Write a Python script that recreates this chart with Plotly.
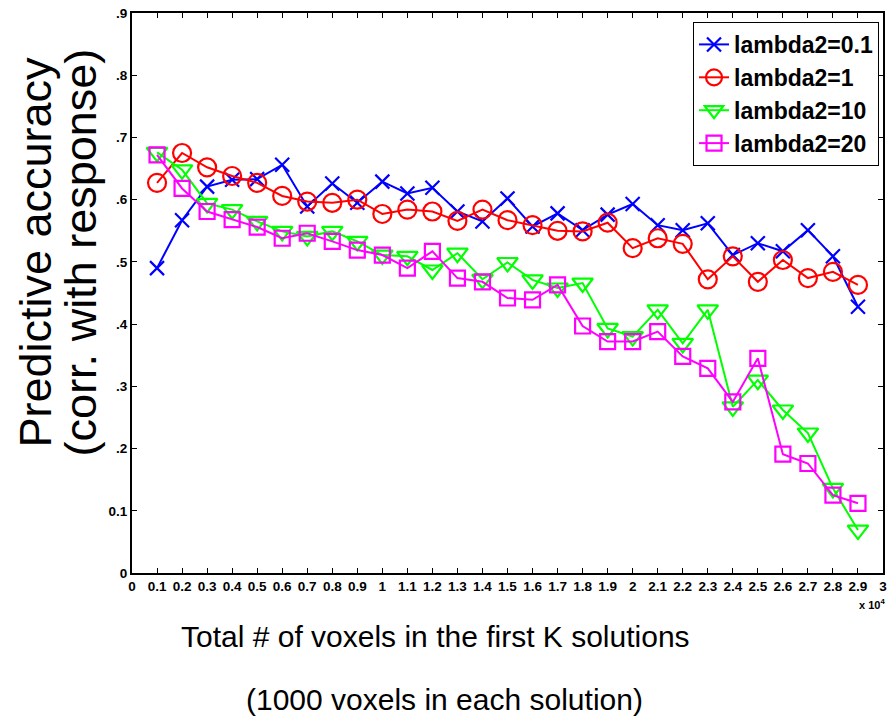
import plotly.graph_objects as go

# Number of voxels selected (first K solutions, 1000 voxels each)
voxels = [1000 * k for k in range(1, 30)]

acc_lambda_01 = [0.490, 0.567, 0.621, 0.632, 0.633, 0.656, 0.589, 0.626, 0.595, 0.629,
                 0.610, 0.619, 0.581, 0.565, 0.602, 0.557, 0.578, 0.551, 0.576, 0.593,
                 0.559, 0.551, 0.562, 0.511, 0.530, 0.517, 0.551, 0.509, 0.428]
acc_lambda_1 = [0.627, 0.675, 0.652, 0.638, 0.627, 0.606, 0.597, 0.595, 0.600, 0.577,
                0.584, 0.581, 0.566, 0.584, 0.567, 0.559, 0.550, 0.549, 0.563, 0.522,
                0.538, 0.529, 0.472, 0.509, 0.468, 0.503, 0.474, 0.484, 0.463]
acc_lambda_10 = [0.676, 0.648, 0.594, 0.584, 0.565, 0.549, 0.541, 0.549, 0.533, 0.511,
                 0.509, 0.487, 0.514, 0.472, 0.499, 0.471, 0.458, 0.466, 0.393, 0.380,
                 0.423, 0.369, 0.423, 0.267, 0.310, 0.262, 0.225, 0.136, 0.069]
acc_lambda_20 = [0.672, 0.618, 0.581, 0.568, 0.556, 0.538, 0.546, 0.533, 0.519, 0.511,
                 0.490, 0.517, 0.474, 0.468, 0.442, 0.439, 0.463, 0.397, 0.372, 0.372,
                 0.388, 0.348, 0.329, 0.275, 0.345, 0.191, 0.176, 0.125, 0.112]

series_names = ["lambda2=0.1", "lambda2=1", "lambda2=10", "lambda2=20"]
series_values = [acc_lambda_01, acc_lambda_1, acc_lambda_10, acc_lambda_20]
series_colors = ["#0000FF", "#FF0000", "#00FF00", "#FF00FF"]
series_symbols = ["x-thin-open", "circle-open", "triangle-down-open", "square-open"]
series_sizes = [14, 18, 18, 15]

x_tickvals = [1000 * k for k in range(0, 31)]
x_ticktext = ["0", "0.1", "0.2", "0.3", "0.4", "0.5", "0.6", "0.7", "0.8", "0.9",
              "1", "1.1", "1.2", "1.3", "1.4", "1.5", "1.6", "1.7", "1.8", "1.9",
              "2", "2.1", "2.2", "2.3", "2.4", "2.5", "2.6", "2.7", "2.8", "2.9", "3"]
y_tickvals = [0, 0.1, 0.2, 0.3, 0.4, 0.5, 0.6, 0.7, 0.8, 0.9]
y_ticktext = ["0", "0.1", ".2", ".3", ".4", ".5", ".6", ".7", ".8", ".9"]

fig = go.Figure()
for name, vals, col, sym, sz in zip(series_names, series_values, series_colors,
                                    series_symbols, series_sizes):
    fig.add_trace(go.Scatter(
        x=voxels, y=vals, name=name, mode="lines+markers",
        line=dict(color=col, width=2),
        marker=dict(symbol=sym, size=sz, color=col, line=dict(color=col, width=2.2)),
    ))

tick_font = dict(family="Liberation Sans", size=13.5, color="black", weight="bold")

fig.update_xaxes(
    range=[0, 30000], tickmode="array", tickvals=x_tickvals, ticktext=x_ticktext,
    ticks="inside", ticklen=5, tickwidth=1, tickcolor="black",
    showline=True, linecolor="black", linewidth=2, mirror="ticks",
    showgrid=False, zeroline=False, tickfont=tick_font,
)
fig.update_yaxes(
    range=[0, 0.9], tickmode="array", tickvals=y_tickvals, ticktext=y_ticktext,
    ticks="inside", ticklen=5, tickwidth=1, tickcolor="black",
    showline=True, linecolor="black", linewidth=2, mirror="ticks",
    showgrid=False, zeroline=False, tickfont=tick_font,
)

title_font_y = dict(family="Liberation Sans", size=45, color="black")
title_font_x = dict(family="Liberation Sans", size=30, color="black")

annotations = [
    dict(text="Predictive accuracy", x=-0.1285, y=0.573, textangle=-90,
         font=title_font_y),
    dict(text="(corr. with response)", x=-0.0689, y=0.573, textangle=-90,
         font=title_font_y),
    dict(text="Total # of voxels in the first K solutions", x=0.404, y=-0.114,
         font=title_font_x),
    dict(text="(1000 voxels in each solution)", x=0.416, y=-0.225,
         font=title_font_x),
    dict(text="x 10<sup>4</sup>", x=0.985, y=-0.055,
         font=dict(family="Liberation Sans", size=11, color="black", weight="bold")),
]
for a in annotations:
    a.update(xref="paper", yref="paper", showarrow=False, xanchor="center",
             yanchor="middle")

fig.update_layout(
    width=892, height=719,
    margin=dict(l=132, r=5, t=13, b=146),
    paper_bgcolor="white", plot_bgcolor="white",
    annotations=annotations,
    showlegend=True,
    legend=dict(
        x=0.9947, y=0.984, xanchor="right", yanchor="top",
        bgcolor="white", bordercolor="black", borderwidth=1,
        font=dict(family="Liberation Sans", size=23, color="black", weight="bold"),
        tracegroupgap=0,
    ),
)

fig.write_html("out.html")
